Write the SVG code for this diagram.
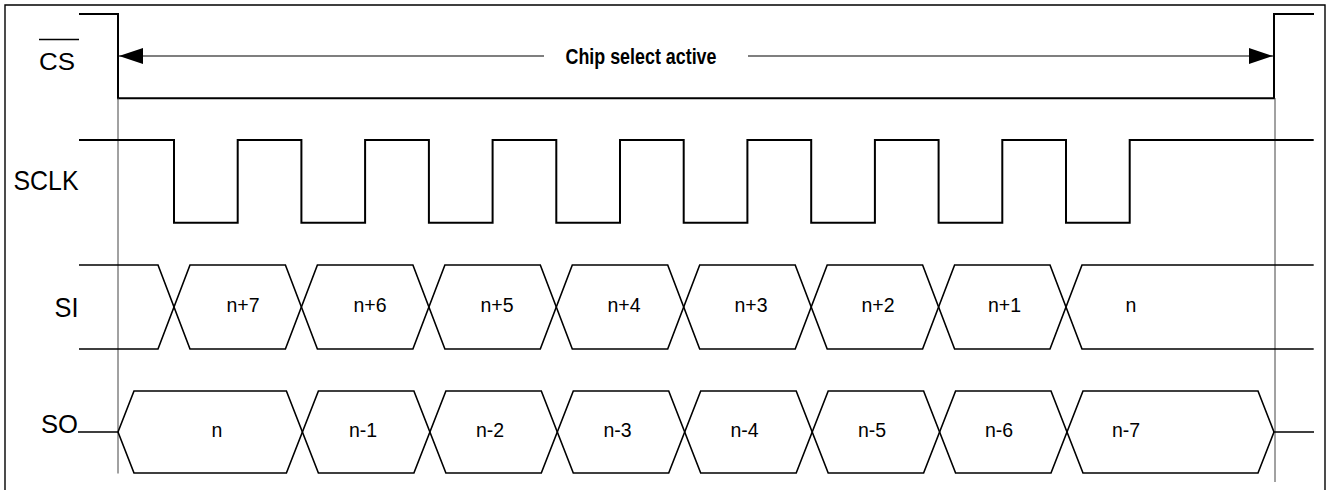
<svg xmlns="http://www.w3.org/2000/svg" width="1331" height="490" viewBox="0 0 1331 490">
<style>
.sig{fill:none;stroke:#000;stroke-width:2;stroke-linejoin:miter}
.bus{fill:none;stroke:#000;stroke-width:1.6;stroke-linejoin:miter}
.mark{fill:none;stroke:#444;stroke-width:1}
.lbl{font-family:"Liberation Sans",Arial,sans-serif;fill:#000}
.dat{font-family:"Liberation Sans",Arial,sans-serif;font-size:19.5px;fill:#000;text-anchor:middle}
.thin{fill:none;stroke:#000;stroke-width:1.1}
</style>
<defs>
<marker id="ah" viewBox="0 0 24 16" refX="24" refY="8" markerWidth="24" markerHeight="16" markerUnits="userSpaceOnUse" orient="auto-start-reverse">
<path d="M0,0 L24,8 L0,16 Z" fill="#000"/>
</marker>
</defs>
<rect width="1331" height="490" fill="#fff"/>
<path id="frame" d="M5,495 V5 H1325 V495" fill="none" stroke="#000" stroke-width="1.4"/>

<g id="cs">
<path class="sig" d="M79,14 H118 V98.3 H1274 V14 H1314"/>
<line x1="39" y1="39.5" x2="79" y2="39.5" stroke="#000" stroke-width="1.4"/>
<text class="lbl" x="39" y="70" font-size="23" textLength="36" lengthAdjust="spacingAndGlyphs">CS</text>
</g>

<g id="markers">
<line class="mark" x1="118" y1="98" x2="118" y2="473.5"/>
<line class="mark" x1="1275" y1="98" x2="1275" y2="482"/>
</g>

<g id="sclk">
<path class="sig" d="M79,140 H174 V222.7 H237.7 V140 H301.4 V222.7 H365.1 V140 H428.9 V222.7 H492.6 V140 H556.3 V222.7 H620 V140 H683.7 V222.7 H747.4 V140 H811.2 V222.7 H874.9 V140 H938.6 V222.7 H1002.3 V140 H1066 V222.7 H1129.7 V140 H1313.7"/>
<text class="lbl" x="13.5" y="190" font-size="27.5" textLength="65" lengthAdjust="spacingAndGlyphs">SCLK</text>
</g>

<g id="si">
<path class="bus" d="M79,265 H158 L190,349 H285.4 L317.4,265 H412.9 L444.9,349 H540.3 L572.3,265 H667.7 L699.7,349 H795.2 L827.2,265 H922.6 L954.6,349 H1050 L1082,265 H1313.7"/>
<path class="bus" d="M79,349 H158 L190,265 H285.4 L317.4,349 H412.9 L444.9,265 H540.3 L572.3,349 H667.7 L699.7,265 H795.2 L827.2,349 H922.6 L954.6,265 H1050 L1082,349 H1313.7"/>
<text class="lbl" x="54.5" y="316.7" font-size="28" textLength="24" lengthAdjust="spacingAndGlyphs">SI</text>
<text class="dat" x="243" y="311.5">n+7</text>
<text class="dat" x="370" y="311.5">n+6</text>
<text class="dat" x="497" y="311.5">n+5</text>
<text class="dat" x="624" y="311.5">n+4</text>
<text class="dat" x="751" y="311.5">n+3</text>
<text class="dat" x="878" y="311.5">n+2</text>
<text class="dat" x="1004.5" y="311.5">n+1</text>
<text class="dat" x="1131" y="311.5">n</text>
</g>

<g id="so">
<path class="bus" d="M78,432 H118 L134,391 H286.4 L318.4,473 H413.9 L445.9,391 H541.3 L573.3,473 H668.7 L700.7,391 H796.2 L828.2,473 H923.6 L955.6,391 H1051 L1083,473 H1258 L1274,432 H1314"/>
<path class="bus" d="M118,432 L134,473 H286.4 L318.4,391 H413.9 L445.9,473 H541.3 L573.3,391 H668.7 L700.7,473 H796.2 L828.2,391 H923.6 L955.6,473 H1051 L1083,391 H1258 L1274,432"/>
<text class="lbl" x="41" y="432.5" font-size="25" textLength="37" lengthAdjust="spacingAndGlyphs">SO</text>
<text class="dat" x="217" y="436.5">n</text>
<text class="dat" x="363" y="436.5">n-1</text>
<text class="dat" x="490" y="436.5">n-2</text>
<text class="dat" x="617.5" y="436.5">n-3</text>
<text class="dat" x="744.5" y="436.5">n-4</text>
<text class="dat" x="872" y="436.5">n-5</text>
<text class="dat" x="999" y="436.5">n-6</text>
<text class="dat" x="1126" y="436.5">n-7</text>
</g>

<g id="connectors">
<line class="thin" x1="544" y1="56" x2="119" y2="56" marker-end="url(#ah)"/>
<line class="thin" x1="748" y1="56" x2="1273" y2="56" marker-end="url(#ah)"/>
<text x="641" y="63.5" font-family="'Liberation Sans',Arial,sans-serif" font-weight="bold" font-size="22.5" text-anchor="middle" textLength="151" lengthAdjust="spacingAndGlyphs">Chip select active</text>
</g>
</svg>
